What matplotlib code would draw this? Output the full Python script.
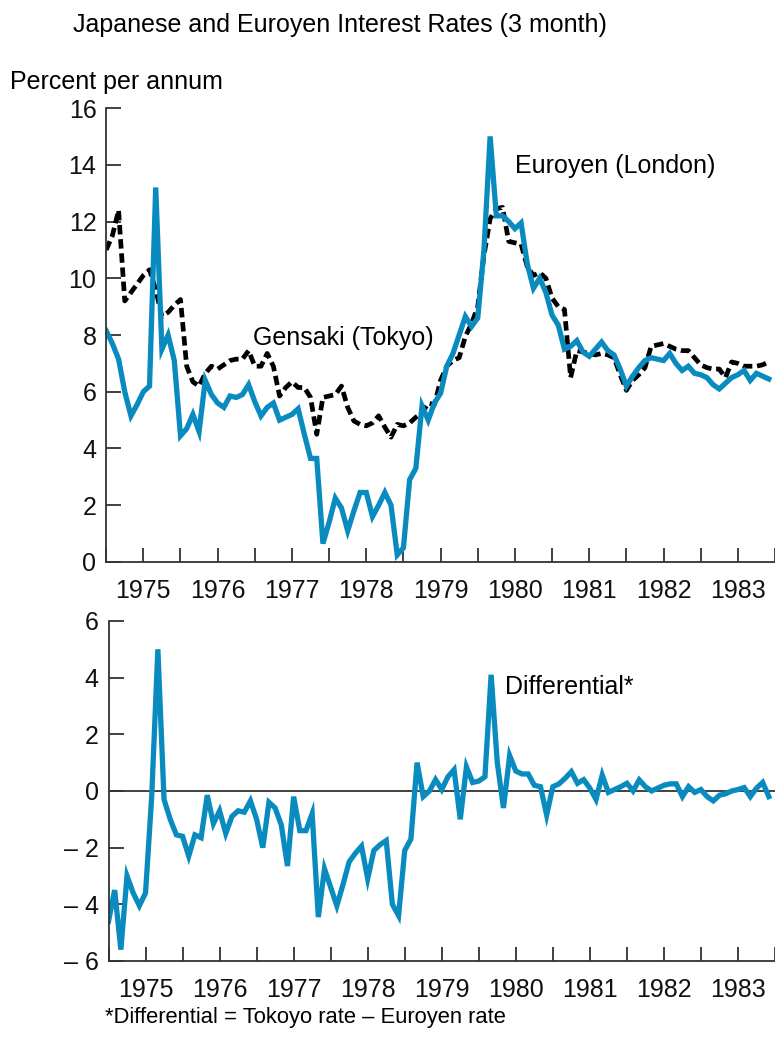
import matplotlib
matplotlib.use("Agg")
import matplotlib.pyplot as plt
import numpy as np

plt.rcParams['font.family'] = ['Liberation Sans', 'DejaVu Sans']

# monthly observations, Jan 1975 .. Dec 1983
start_year = 1975
gensaki = [
    11.0, 11.5, 12.4, 9.2, 9.5, 9.8, 10.1, 10.3, 9.6, 8.65, 8.8, 9.05,
    9.25, 6.9, 6.35, 6.2, 6.65, 6.9, 6.8, 6.95, 7.1, 7.15, 7.15, 7.45,
    6.9, 6.9, 7.35, 6.9, 5.85, 6.15, 6.35, 6.15, 6.15, 5.8, 4.5, 5.8,
    5.85, 5.9, 6.2, 5.45, 4.97, 4.85, 4.8, 4.9, 5.15, 4.75, 4.4, 4.85,
    4.8, 4.9, 5.1, 5.25, 5.6, 5.55, 6.4, 6.9, 7.1, 7.2, 7.95, 8.4,
    9.0, 10.8, 12.1, 12.45, 12.5, 11.3, 11.25, 11.2, 10.4, 10.1, 10.2, 10.0,
    9.3, 9.0, 8.9, 6.5, 7.45, 7.4, 7.35, 7.3, 7.35, 7.3, 7.2, 6.6,
    6.05, 6.4, 6.6, 6.85, 7.6, 7.65, 7.7, 7.6, 7.5, 7.45, 7.45, 7.2,
    6.95, 6.85, 6.8, 6.8, 6.5, 7.05, 7.0, 6.9, 6.9, 6.9, 6.95, 7.05,
]
euroyen = [
    8.15, 7.7, 7.15, 6.0, 5.15, 5.55, 6.0, 6.2, 13.2, 7.5, 8.0, 7.1,
    4.45, 4.7, 5.2, 4.6, 6.4, 5.9, 5.6, 5.45, 5.85, 5.8, 5.9, 6.25,
    5.65, 5.15, 5.45, 5.6, 5.0, 5.1, 5.2, 5.4, 4.5, 3.65, 3.65, 0.65,
    1.4, 2.25, 1.9, 1.1, 1.8, 2.45, 2.45, 1.6, 2.0, 2.45, 2.0, 0.25,
    0.5, 2.9, 3.3, 5.5, 5.0, 5.6, 5.95, 6.9, 7.35, 8.0, 8.65, 8.3,
    8.6, 11.0, 15.0, 12.2, 12.2, 12.0, 11.75, 11.95, 10.5, 9.65, 10.0, 9.5,
    8.7, 8.35, 7.5, 7.6, 7.8, 7.4, 7.25, 7.5, 7.75, 7.45, 7.3, 6.8,
    6.2, 6.55, 6.85, 7.1, 7.2, 7.15, 7.1, 7.35, 7.0, 6.75, 6.9, 6.65,
    6.6, 6.5, 6.25, 6.1, 6.3, 6.5, 6.6, 6.75, 6.4, 6.65, 6.55, 6.45,
]
differential = [
    -4.6, -3.5, -5.6, -3.0, -3.6, -4.05, -3.6, -0.2, 5.0, -0.3, -1.0, -1.55,
    -1.6, -2.3, -1.55, -1.65, -0.15, -1.15, -0.7, -1.5, -0.9, -0.7, -0.75, -0.35,
    -1.0, -2.0, -0.4, -0.6, -1.2, -2.65, -0.2, -1.4, -1.4, -0.8, -4.45, -2.75,
    -3.4, -4.05, -3.3, -2.5, -2.2, -1.95, -3.1, -2.1, -1.9, -1.75, -4.0, -4.4,
    -2.1, -1.7, 1.0, -0.2, 0.0, 0.4, 0.05, 0.5, 0.75, -1.0, 0.85, 0.3,
    0.35, 0.5, 4.1, 1.0, -0.6, 1.25, 0.7, 0.6, 0.6, 0.2, 0.15, -0.85,
    0.15, 0.25, 0.45, 0.68, 0.27, 0.4, 0.1, -0.3, 0.56, -0.05, 0.05, 0.15,
    0.27, 0.0, 0.39, 0.15, 0.0, 0.1, 0.2, 0.25, 0.25, -0.2, 0.15, -0.05,
    0.05, -0.2, -0.35, -0.15, -0.1, 0.0, 0.05, 0.12, -0.2, 0.1, 0.3, -0.2,
]
top_yticks = [0, 2, 4, 6, 8, 10, 12, 14, 16]
bottom_yticks = [-6, -4, -2, 0, 2, 4, 6]

t = start_year + np.arange(len(gensaki)) / 12.0

BLUE = '#0a8bbf'
AXC = '#333333'
FS = 18

fig = plt.figure(figsize=(7.75, 10.53), dpi=100)
ax1 = fig.add_axes([0.137, 0.4663, 0.863, 0.4311])
ax2 = fig.add_axes([0.14, 0.0874, 0.86, 0.3229])


def style_axis(ax, yticks, ylabels):
    for s in ('top', 'right'):
        ax.spines[s].set_visible(False)
    for s in ('left', 'bottom'):
        ax.spines[s].set_color(AXC)
        ax.spines[s].set_linewidth(1.3)
    ax.set_xlim(1975, 1984)
    ax.set_ylim(yticks[0], yticks[-1])
    ax.set_yticks(yticks)
    ax.set_yticklabels(ylabels)
    xt = np.arange(1975, 1984.01, 0.5)
    ax.set_xticks(xt)
    ax.set_xticklabels([str(int(v)) if v % 1 else '' for v in xt])
    ax.tick_params(axis='both', direction='in', color=AXC, width=1.3,
                   labelsize=FS, labelcolor='#111111')
    ax.tick_params(axis='y', length=11, pad=7)
    ax.tick_params(axis='x', length=10, pad=12)


style_axis(ax1, top_yticks, [str(v) for v in top_yticks])
ax1.plot(t, gensaki, color='black', lw=3.4, dashes=(2.0, 1.0), solid_capstyle='butt')
ax1.plot(t, euroyen, color=BLUE, lw=3.8, solid_joinstyle='miter')
ax1.text(1976.97, 7.9, 'Gensaki (Tokyo)', fontsize=FS, va='center', ha='left')
ax1.text(1980.5, 13.96, 'Euroyen (London)', fontsize=FS, va='center', ha='left')

style_axis(ax2, bottom_yticks,
           [('\u2013 %d' % -v) if v < 0 else str(v) for v in bottom_yticks])
ax2.axhline(0, color=AXC, lw=1.3)
ax2.plot(t, differential, color=BLUE, lw=3.8, solid_joinstyle='miter')
ax2.text(1980.35, 3.67, 'Differential*', fontsize=FS, va='center', ha='left')

fig.text(73 / 775, 1 - 25 / 1053, 'Japanese and Euroyen Interest Rates (3 month)',
         fontsize=FS, va='center', ha='left')
fig.text(10 / 775, 1 - 82 / 1053, 'Percent per annum', fontsize=FS, va='center', ha='left')
fig.text(105 / 775, 1 - 1017 / 1053, '*Differential = Tokoyo rate \u2013 Euroyen rate',
         fontsize=15.8, va='center', ha='left')

fig.savefig('out.png', dpi=100)
